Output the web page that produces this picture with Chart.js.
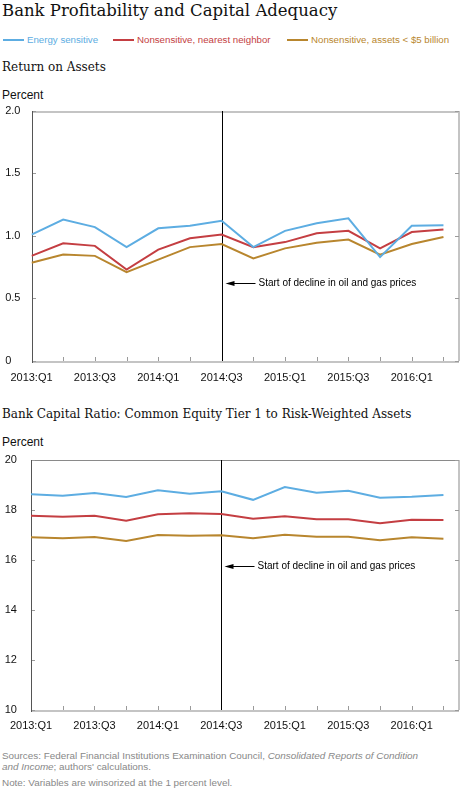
<!DOCTYPE html>
<html><head><meta charset="utf-8">
<script src="https://cdn.jsdelivr.net/npm/chart.js@4.4.0/dist/chart.umd.min.js"></script>
<style>
html,body{margin:0;padding:0;background:#fff;}
body{width:460px;height:793px;position:relative;overflow:hidden;font-family:'Liberation Sans',Arial,sans-serif;color:#111;}
.abs{position:absolute;white-space:nowrap;}
.title{left:2px;top:1px;font:16.5px/19px 'DejaVu Serif',serif;}
.sub{left:2px;font:12px/15px 'DejaVu Serif',serif;}
.unit{left:2px;font:12px/12px 'Liberation Sans',Arial,sans-serif;}
.leg{top:34px;font:9.7px/12px 'Liberation Sans',Arial,sans-serif;display:flex;align-items:center;}
.leg i{display:inline-block;width:21px;height:2px;margin-right:3px;}
.src{left:2px;font:9.9px/10.7px 'Liberation Sans',Arial,sans-serif;color:#888;}
canvas{position:absolute;left:0;}
</style></head>
<body>
<div class="abs title">Bank Profitability and Capital Adequacy</div>
<div id="legend"></div>
<div class="abs sub" style="top:60px">Return on Assets</div>
<div class="abs unit" style="top:89px">Percent</div>
<canvas id="c1" width="460" height="290" style="top:100px"></canvas>
<div class="abs sub" style="top:407px">Bank Capital Ratio: Common Equity Tier 1 to Risk-Weighted Assets</div>
<div class="abs unit" style="top:436px">Percent</div>
<canvas id="c2" width="460" height="290" style="top:450px"></canvas>
<div class="abs src" style="top:751px">Sources: Federal Financial Institutions Examination Council, <i>Consolidated Reports of Condition</i><br><i>and Income</i>; authors' calculations.</div>
<div class="abs src" style="top:778px">Note: Variables are winsorized at the 1 percent level.</div>
<script>
const quarters = ['2013:Q1','2013:Q2','2013:Q3','2013:Q4','2014:Q1','2014:Q2','2014:Q3','2014:Q4','2015:Q1','2015:Q2','2015:Q3','2015:Q4','2016:Q1','2016:Q2'];
const seriesNames = ['Energy sensitive','Nonsensitive, nearest neighbor','Nonsensitive, assets < $5 billion'];
const seriesColors = ['#5DADE2','#C43E42','#B8862E'];

const roaEnergy    = [1.01,1.13,1.07,0.91,1.06,1.08,1.12,0.91,1.04,1.10,1.14,0.83,1.08,1.085];
const roaNeighbor  = [0.84,0.94,0.92,0.73,0.89,0.98,1.01,0.91,0.95,1.02,1.04,0.90,1.03,1.05];
const roaSmall     = [0.785,0.85,0.84,0.71,0.81,0.91,0.935,0.82,0.90,0.945,0.97,0.85,0.935,0.99];

const capEnergy    = [18.61,18.55,18.66,18.50,18.77,18.63,18.73,18.39,18.90,18.67,18.75,18.47,18.51,18.58];
const capNeighbor  = [17.75,17.71,17.75,17.55,17.81,17.85,17.82,17.63,17.73,17.61,17.61,17.45,17.59,17.58];
const capSmall     = [16.89,16.85,16.90,16.74,16.98,16.95,16.97,16.85,16.99,16.91,16.91,16.77,16.89,16.83];

const roaTicks = {min:0, max:2, step:0.5};
const capTicks = {min:10, max:20, step:2};
const shockIndex = 6; // 2014:Q3
const annotationText = 'Start of decline in oil and gas prices';
const roaAnnotationY = 0.624;
const capAnnotationY = 15.75;

// legend
const legLefts = [3,113,287];
const legend = document.getElementById('legend');
seriesNames.forEach((n,i)=>{
  const d = document.createElement('div');
  d.className='abs leg'; d.style.left = legLefts[i]+'px'; d.style.color = seriesColors[i];
  const l = document.createElement('i'); l.style.background = seriesColors[i];
  d.appendChild(l); d.appendChild(document.createTextNode(n));
  legend.appendChild(d);
});

const framePlugin = {
  id:'frame',
  beforeDatasetsDraw(chart){
    const ctx = chart.ctx, a = chart.chartArea, xs = chart.scales.x, ys = chart.scales.y;
    const o = chart.options.plugins.frame;
    const L = Math.round(a.left), R = Math.round(a.right), T = Math.round(a.top), B = Math.round(a.bottom);
    ctx.save();
    // light frame: top, right, bottom
    ctx.fillStyle = '#c4c4c4';
    ctx.fillRect(L, B, R-L, 2);
    ctx.fillRect(R-1, T, 2, B-T);
    ctx.fillStyle = o.topColor;
    ctx.fillRect(L, T, R-L, o.topWidth);
    // tick marks
    ctx.strokeStyle = '#9a9a9a'; ctx.lineWidth = 1;
    ctx.beginPath();
    ys.ticks.forEach(t=>{
      const py = Math.round(ys.getPixelForValue(t.value))+0.5;
      ctx.moveTo(L, py); ctx.lineTo(L+4, py);
      ctx.moveTo(R-4, py); ctx.lineTo(R, py);
    });
    xs.ticks.forEach(t=>{
      const px = Math.round(xs.getPixelForValue(t.value))+0.5;
      ctx.moveTo(px, B); ctx.lineTo(px, B-4);
    });
    ctx.stroke();
    // left axis (dark)
    ctx.fillStyle = '#555';
    ctx.fillRect(L, T, 1, B-T+2);
    // shock line
    const vx = Math.round(xs.getPixelForValue(shockIndex))+0.5;
    ctx.strokeStyle = '#000';
    ctx.beginPath(); ctx.moveTo(vx, T); ctx.lineTo(vx, B); ctx.stroke();
    // arrow
    const ay = Math.round(ys.getPixelForValue(o.annY))+0.5;
    ctx.beginPath(); ctx.moveTo(vx+10, ay); ctx.lineTo(vx+33, ay); ctx.stroke();
    ctx.fillStyle = '#000';
    ctx.beginPath(); ctx.moveTo(vx+3, ay); ctx.lineTo(vx+12, ay-2.5); ctx.lineTo(vx+12, ay+2.5); ctx.closePath(); ctx.fill();
    ctx.font = "10px 'Liberation Sans', Arial, sans-serif";
    ctx.textBaseline = 'middle'; ctx.textAlign = 'left';
    ctx.fillText(annotationText, vx+36, ay);
    ctx.restore();
  }
};

function makeChart(id, data, yt, annY, topPad, xHeight, xPad, fmt, topColor, topWidth){
  new Chart(document.getElementById(id), {
    type:'line',
    data:{datasets: data.map((arr,i)=>({
      label: seriesNames[i],
      data: arr.map((v,k)=>({x:k, y:v})),
      borderColor: seriesColors[i], borderWidth: 2, pointRadius: 0, tension: 0, fill:false
    }))},
    options:{
      responsive:false, animation:false, devicePixelRatio:1,
      layout:{padding:{left:3, top:topPad, right:0.7, bottom:0}},
      plugins:{legend:{display:false}, tooltip:{enabled:false}, frame:{annY:annY, topColor:topColor, topWidth:topWidth}},
      scales:{
        x:{type:'linear', min:0, max:quarters.length-0.5,
          grid:{display:false, drawTicks:false}, border:{display:false},
          ticks:{stepSize:1, includeBounds:false, autoSkip:false, maxRotation:0, minRotation:0, padding:xPad, color:'#111',
            font:{family:"'Liberation Sans', Arial, sans-serif", size:11},
            callback:(v)=> (Number.isInteger(v) && v%2===0 && quarters[v]) ? quarters[v] : ''},
          afterFit:(s)=>{s.height = xHeight;}},
        y:{min:yt.min, max:yt.max,
          grid:{display:false, drawTicks:false}, border:{display:false},
          ticks:{stepSize:yt.step, crossAlign:'far', color:'#111',
            font:{family:"'Liberation Sans', Arial, sans-serif", size:11}, callback:fmt},
          afterFit:(s)=>{s.width = 26.3;}}
      }
    },
    plugins:[framePlugin]
  });
}

makeChart('c1', [roaEnergy, roaNeighbor, roaSmall], roaTicks, roaAnnotationY, 10.7, 29, 10.4,
  v => v===0 ? '0' : v.toFixed(1), '#c4c4c4', 2);
makeChart('c2', [capEnergy, capNeighbor, capSmall], capTicks, capAnnotationY, 9.5, 30.5, 9.9,
  v => String(v), '#8a8a8a', 1);
</script>
</body></html>
